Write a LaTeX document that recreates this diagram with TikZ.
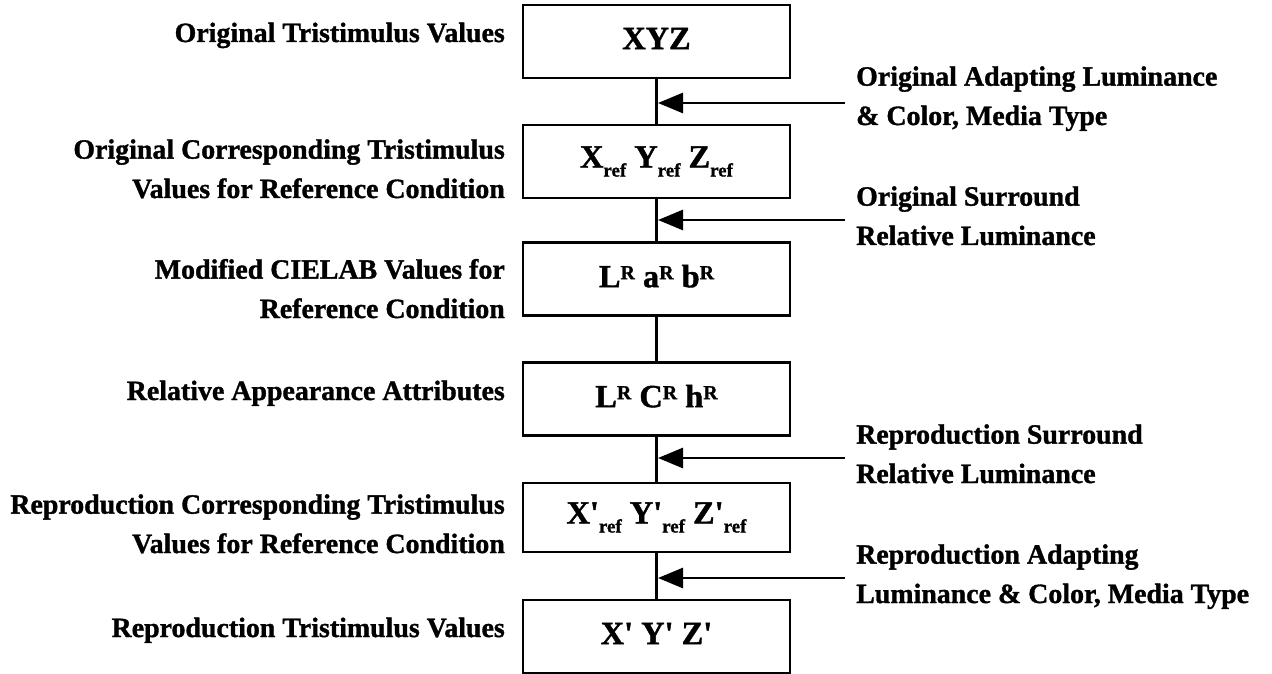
\documentclass[tikz,border=0pt]{standalone}
\usepackage{fontspec}
\setmainfont{Liberation Serif}[BoldFeatures={FakeBold=1.2}]
\usetikzlibrary{arrows.meta}
\newcommand\sqq{\XeTeXglyph\XeTeXcharglyph"0027\relax}
\newcommand\rf{\raisebox{-9bp}{\fontsize{19}{19}\selectfont ref}}
\newcommand\sR{\raisebox{8bp}{\fontsize{20}{20}\selectfont R}}
\begin{document}
\begin{tikzpicture}[x=1bp,y=-1bp,
  box/.style={draw, line width=2.8bp, minimum width=267bp, minimum height=73bp, inner sep=0pt, font=\fontsize{32.5}{38}\selectfont\bfseries},
  raised/.style={text depth=6bp},
  lab/.style={inner sep=0pt, align=right, anchor=base east, font=\fontsize{28}{39.5}\selectfont\bfseries},
  rlab/.style={inner sep=0pt, align=left, anchor=base west, font=\fontsize{28}{39.5}\selectfont\bfseries},
  link/.style={line width=2.8bp},
  feed/.style={line width=2.8bp, -{Triangle[length=25bp,width=20bp]}}]
\useasboundingbox (0,0) rectangle (1272,674);
% boxes
\node[box, raised] (b1) at (656.5,41.5) {XYZ};
\node[box] (b2) at (656.5,161.5) {X\rf{} Y\rf{} Z\rf};
\node[box, raised] (b3) at (656.5,279) {L\sR{} a\sR{} b\sR};
\node[box, raised] (b4) at (656.5,399) {L\sR{} C\sR{} h\sR};
\node[box, minimum height=69bp] (b5) at (656.5,517.5) {X\sqq\rf{} Y\sqq\rf{} Z\sqq\rf};
\node[box, raised] (b6) at (656.5,636.5) {X\sqq{} Y\sqq{} Z\sqq};
% vertical links
\draw[link] (b1) -- (b2);
\draw[link] (b2) -- (b3);
\draw[link] (b3) -- (b4);
\draw[link] (b4) -- (b5);
\draw[link] (b5) -- (b6);
% feed arrows
\coordinate (f1) at (845,103); \coordinate (j1) at (658,103);
\coordinate (f2) at (845,220); \coordinate (j2) at (658,220);
\coordinate (f3) at (845,458); \coordinate (j3) at (658,458);
\coordinate (f4) at (845,578); \coordinate (j4) at (658,578);
\draw[feed] (f1) -- (j1);
\draw[feed] (f2) -- (j2);
\draw[feed] (f3) -- (j3);
\draw[feed] (f4) -- (j4);
% left labels (base = last line's baseline)
\node[lab] (l1) at (505,42) {Original Tristimulus Values};
\node[lab] (l2) at (505,198) {Original Corresponding Tristimulus\\Values for Reference Condition};
\node[lab] (l3) at (505,318) {Modified CIELAB Values for\\Reference Condition};
\node[lab] (l4) at (505,400) {Relative Appearance Attributes};
\node[lab] (l5) at (505,553) {Reproduction Corresponding Tristimulus\\Values for Reference Condition};
\node[lab] (l6) at (505,637) {Reproduction Tristimulus Values};
% right labels
\node[rlab] (r1) at (856,125) {Original Adapting Luminance\\\& Color, Media Type};
\node[rlab] (r2) at (856,245) {Original Surround\\Relative Luminance};
\node[rlab] (r3) at (856,483) {Reproduction Surround\\Relative Luminance};
\node[rlab] (r4) at (856,603) {Reproduction Adapting\\Luminance \& Color, Media Type};
\end{tikzpicture}
\end{document}
